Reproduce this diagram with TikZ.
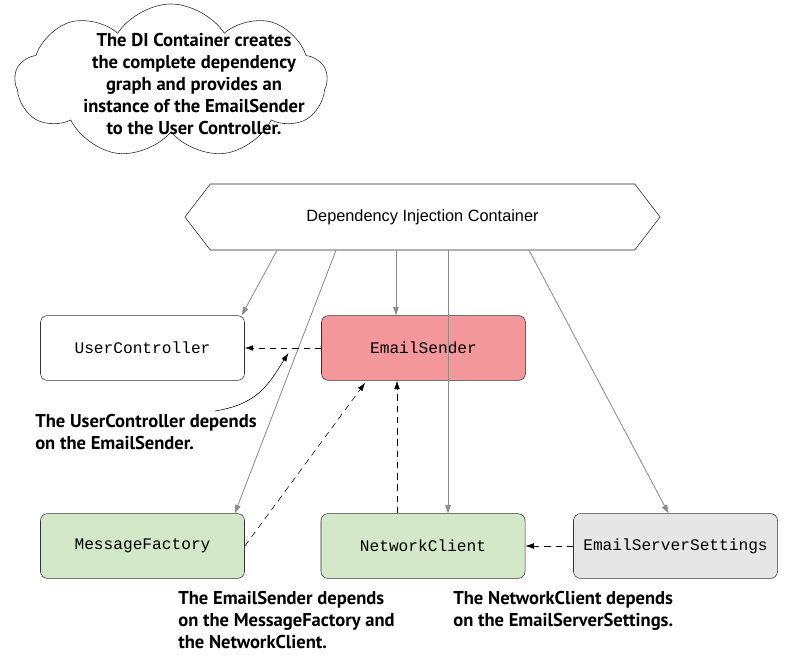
\documentclass[tikz,border=0pt]{standalone}
\usepackage{fontspec}
\setmainfont{Liberation Sans}
\newfontfamily\notefont{PT Sans}
\newfontfamily\codefont{Liberation Mono}
\usepackage{tikz}
\usetikzlibrary{shapes.symbols,arrows.meta,calc}
\definecolor{senderpink}{HTML}{F4979B}
\definecolor{factorygreen}{HTML}{D3E8C8}
\definecolor{settingsgray}{HTML}{E6E6E6}
\definecolor{wiregray}{HTML}{8C8C8C}

\begin{document}
\begin{tikzpicture}[
    x=0.025cm, y=-0.025cm,
    classbox/.style={draw=black!80, thin, rounded corners=5pt, minimum width=5.1cm,
        minimum height=1.62cm, font=\codefont\fontsize{11.5}{13}\selectfont},
    note/.style={align=left, inner sep=0pt, font=\notefont\bfseries\fontsize{13.2}{15.6}\selectfont},
    injectarr/.style={-{Triangle[length=6pt,width=4pt]}, wiregray, semithick},
    dependarr/.style={-{Latex[length=6pt,width=4pt]}, black, thin, dash pattern=on 4.5pt off 3.5pt}
]
    \useasboundingbox (0,0) rectangle (800,663);

    % --- cloud with the explanation ---
    \node[cloud, draw=black!85, thin, cloud puffs=9, cloud puff arc=115, aspect=2.1,
          minimum width=7.8cm, minimum height=3.85cm, inner sep=0pt] (cloudnote) at (171,81) {};
    \node[note, align=center] (cloudtext) at (194,84) {
        The DI Container creates\\
        the complete dependency\\
        graph and provides an\\
        instance of the EmailSender\\
        to the User Controller.
    };

    % --- container ---
    \node[signal, signal to=west and east, signal pointer angle=105, draw=black!85, thin,
          minimum width=11.875cm, minimum height=1.65cm, inner sep=0pt,
          font=\fontsize{11.6}{13}\selectfont] (dic) at (422.5,217) {Dependency Injection Container};

    % --- classes ---
    \node[classbox] (uc) at (142.5,348) {UserController};
    \node[classbox, fill=senderpink] (es) at (423.5,348) {EmailSender};
    \node[classbox, fill=factorygreen] (mf) at (142.5,546) {MessageFactory};
    \node[classbox, fill=factorygreen] (nc) at (423,546) {NetworkClient};
    \node[classbox, fill=settingsgray] (ess) at (675.5,546) {EmailServerSettings};

    % --- points on the bottom of the container ---
    \coordinate (d1) at ($(dic.south)+(-145.5,0)$);
    \coordinate (d2) at ($(dic.south)+(-86.5,0)$);
    \coordinate (d3) at ($(dic.south)+(-26.5,0)$);
    \coordinate (d4) at ($(dic.south)+(25.5,0)$);
    \coordinate (d5) at ($(dic.south)+(106.5,0)$);

    % --- container creates the objects (grey) ---
    \draw[injectarr] (d1) -- ($(uc.north east)+(-3,0)$);
    \draw[injectarr] (d2) -- ($(mf.north east)+(-10,0)$);
    \draw[injectarr] (d3) -- (d3 |- es.north);
    \draw[injectarr] (d4) -- (d4 |- nc.north);
    \draw[injectarr] (d5) -- ($(ess.north)+(-7,0)$);

    % --- dependencies (dashed) ---
    \draw[dependarr] (es.west) -- (uc.east) coordinate[pos=0.35] (ucdep);
    \draw[dependarr] (mf.east) -- ($(es.south west)+(44,2)$);
    \coordinate (ncup) at ($(nc.north)+(-26,0)$);
    \draw[dependarr] (ncup) -- (ncup |- es.south);
    \draw[dependarr] (ess.west) -- (nc.east);

    % --- notes ---
    \node[note, anchor=north west] (ucnote) at (35,414) {
        The UserController depends\\
        on the EmailSender.
    };
    \draw[-{Latex[length=6pt,width=4pt]}, black, thin] (215,411)
        .. controls (258,404) and (268,385) .. ($(ucdep)+(-6,5)$);

    \node[note, anchor=north west] (esnote) at (178,591) {
        The EmailSender depends\\
        on the MessageFactory and\\
        the NetworkClient.
    };
    \node[note, anchor=north west] (ncnote) at (453,591) {
        The NetworkClient depends\\
        on the EmailServerSettings.
    };

\end{tikzpicture}
\end{document}
